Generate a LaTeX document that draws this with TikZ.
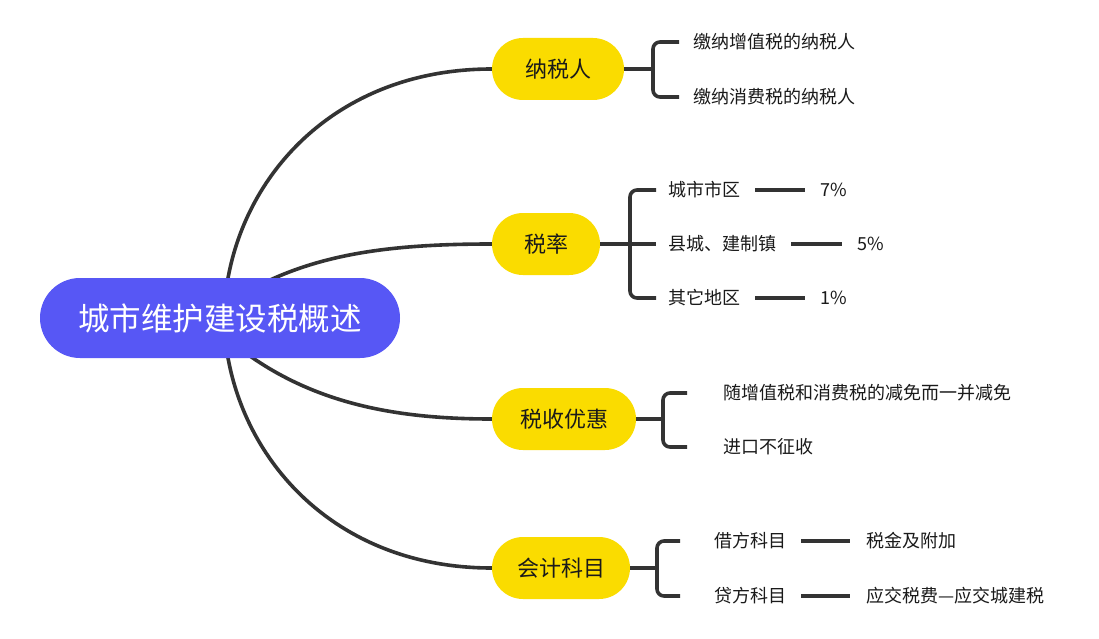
\documentclass[tikz,border=0pt]{standalone}
\usepackage{fontspec}
\setmainfont{Noto Sans CJK SC}
\definecolor{rootc}{HTML}{5757F5}
\definecolor{yel}{HTML}{FADC00}
\definecolor{ln}{HTML}{333333}
\definecolor{tx}{HTML}{1A1A1A}
\pgfdeclarelayer{bg}
\pgfdeclarelayer{lines}
\pgfsetlayers{bg,lines,main}
\begin{document}
\begin{tikzpicture}[x=1pt,y=-1pt,
  rootbox/.style={rectangle,rounded corners=40pt,fill=rootc,text=white,minimum width=360pt,minimum height=80pt,font=\fontsize{31.5}{33}\selectfont,inner sep=0pt},
  topic/.style={rectangle,rounded corners=31pt,fill=yel,text=tx,minimum height=62pt,font=\fontsize{22}{24}\selectfont,inner sep=0pt},
  leaf/.style={anchor=west,inner sep=0pt,text=tx,font=\fontsize{18}{20}\selectfont},
  conn/.style={draw=ln,line width=3.6pt},
  curve/.style={draw=ln,line width=3.6pt},
  brk/.style={conn,rounded corners=7pt}]
\begin{pgfonlayer}{bg}
\fill[white] (0,0) rectangle (1099,639);
\end{pgfonlayer}
\useasboundingbox (0,0) rectangle (1099,639);
% root and topics
\node[rootbox] (root) at (220,318) {城市维护建设税概述};
\node[topic,minimum width=132pt] (n1) at (558,69) {纳税人};
\node[topic,minimum width=108pt] (n2) at (546,244) {税率};
\node[topic,minimum width=144pt] (n3) at (564,419) {税收优惠};
\node[topic,minimum width=138pt] (n4) at (561,568) {会计科目};
% leaves
\node[leaf] (t11) at (693,42) {缴纳增值税的纳税人};
\node[leaf] (t12) at (693,97) {缴纳消费税的纳税人};
\node[leaf] (t21) at (668,190) {城市市区};
\node[leaf] (t22) at (668,244) {县城、建制镇};
\node[leaf] (t23) at (668,298) {其它地区};
\node[leaf] (p21) at (820,190) {7\%};
\node[leaf] (p22) at (857,244) {5\%};
\node[leaf] (p23) at (820,298) {1\%};
\node[leaf] (t31) at (723,393) {随增值税和消费税的减免而一并减免};
\node[leaf] (t32) at (723,447) {进口不征收};
\node[leaf] (t41) at (714,541) {借方科目};
\node[leaf] (t42) at (714,596) {贷方科目};
\node[leaf] (p41) at (866,541) {税金及附加};
\node[leaf] (p42) at (866,596) {应交税费—应交城建税};
% bracket coordinates
\coordinate (k1) at (653,69);
\coordinate (k2) at (630,244);
\coordinate (k3) at (663,419);
\coordinate (k4) at (657,568);
\coordinate (r1) at (227,284);
\coordinate (r2) at (268,281);
\coordinate (r3) at (250,356);
\coordinate (r4) at (227,352);
\begin{pgfonlayer}{lines}
\draw[curve] (r1) .. controls (245,170) and (340,69) .. (n1.west);
\draw[curve] (r2) .. controls (330,252) and (400,244) .. (n2.west);
\draw[curve] (r3) .. controls (320,405) and (400,419) .. (n3.west);
\draw[curve] (r4) .. controls (245,466) and (340,568) .. (n4.west);
\end{pgfonlayer}
% brackets
\draw[conn] (n1.east) -- (k1);
\draw[brk] ([xshift=-14pt]t11.west) -| (k1) |- ([xshift=-14pt]t12.west);
\draw[conn] (n2.east) -- ([xshift=-12pt]t22.west);
\draw[brk] ([xshift=-12pt]t21.west) -| (k2) |- ([xshift=-12pt]t23.west);
\draw[conn] (n3.east) -- (k3);
\draw[brk] ([xshift=-36pt]t31.west) -| (k3) |- ([xshift=-36pt]t32.west);
\draw[conn] (n4.east) -- (k4);
\draw[brk] ([xshift=-34pt]t41.west) -| (k4) |- ([xshift=-34pt]t42.west);
% dashes
\draw[conn] ([xshift=15pt]t21.east) -- ([xshift=-15pt]p21.west);
\draw[conn] ([xshift=15pt]t22.east) -- ([xshift=-15pt]p22.west);
\draw[conn] ([xshift=15pt]t23.east) -- ([xshift=-15pt]p23.west);
\draw[conn] ([xshift=15pt]t41.east) -- ([xshift=-16pt]p41.west);
\draw[conn] ([xshift=15pt]t42.east) -- ([xshift=-16pt]p42.west);
\end{tikzpicture}
\end{document}
